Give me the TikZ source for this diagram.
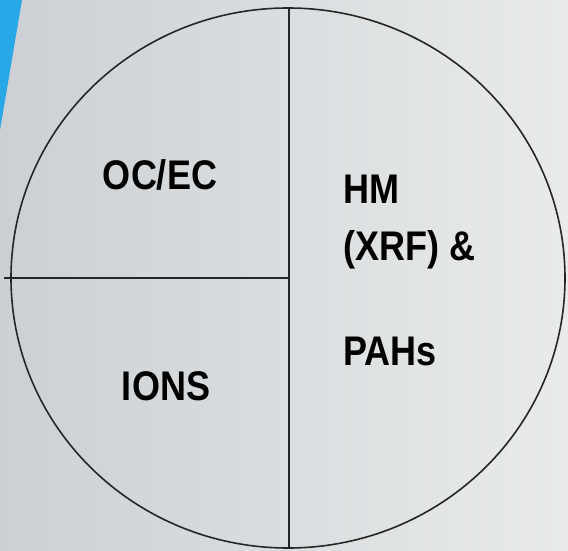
\documentclass[tikz,border=0pt]{standalone}
\usepackage{fontspec}
\setmainfont{Liberation Sans}
\usetikzlibrary{positioning}

\definecolor{bgleft}{RGB}{204,208,212}
\definecolor{bgright}{RGB}{233,235,235}
\definecolor{accent}{RGB}{41,168,232}

\tikzset{
  part/.style={line width=1.6pt, draw=black!85},
  lbl/.style={inner sep=0pt, font=\bfseries\fontsize{36}{40}\selectfont}
}
\newcommand{\tall}[1]{\scalebox{1}[1.15]{#1}}

\begin{document}
\begin{tikzpicture}[x=1pt, y=-1pt]
    % background
    \useasboundingbox (0,0) rectangle (568,551);%
    \shade [left color=bgleft, right color=bgright] (0,0) rectangle (568,551);%
    \fill [accent] (0,0) -- (22,0) -- (0,130) -- cycle;%

    % circle
    \coordinate (C) at (288,278);%
    \coordinate (top) at (289,8);%
    \coordinate (bottom) at (289,548);%
    \coordinate (west) at (4,278);%
    \draw [part] (C) ellipse [x radius=277, y radius=270];%
    \draw [part] (top) -- (bottom);%
    \draw [part] (west) -- (west -| top);%

    % labels
    \node [lbl] (OCEC) at (160,175) {\tall{OC/EC}};%
    \node [lbl, anchor=base west] (HM) at (343,203) {\tall{HM}};%
    \node [lbl, anchor=base west] (XRF) at (343,260) {\tall{(XRF) \&}};%
    \node [lbl, anchor=base west] (PAHs) at (343,365) {\tall{PAHs}};%
    \node [lbl] (IONS) at (166,386) {\tall{IONS}};%
\end{tikzpicture}
\end{document}
